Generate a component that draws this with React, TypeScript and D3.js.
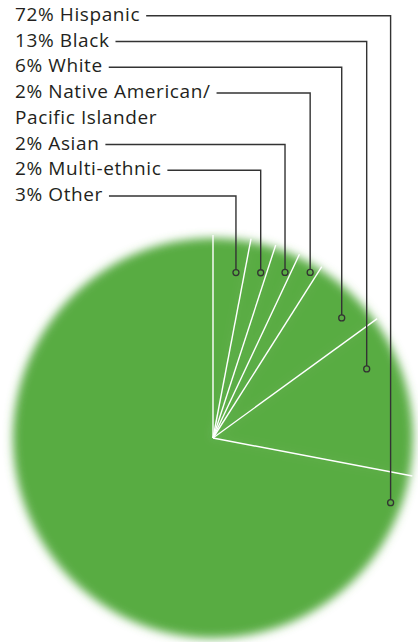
import { useEffect, useRef } from 'react'
import * as d3 from 'd3'

const W = 418
const H = 642

// pie order, clockwise from 12 o'clock
const categories = ['Other', 'Multi-ethnic', 'Asian', 'Native American/Pacific Islander', 'White', 'Black', 'Hispanic']
const values = [3, 2, 2, 2, 6, 13, 72]

// leader anchor inside the pie: angle (deg from top) and distance from centre
const anchorAngle = [7.9, 16.1, 23.5, 30.4, 47, 65.8, 110]
const anchorRadius = [167, 172, 180.6, 192, 176, 168.5, 189]

const GREEN = '#58ac42'
const INK = '#231f20'

export default function App() {
  const svgRef = useRef<SVGSVGElement>(null)

  useEffect(() => {
    document.body.style.margin = '0'
    const svg = d3.select(svgRef.current)
    svg.selectAll('*').remove()

    const cx = 213
    const cy = 438
    const r = 200

    const defs = svg.append('defs')
    defs.append('filter').attr('id', 'feather')
      .attr('x', '-10%').attr('y', '-10%').attr('width', '120%').attr('height', '120%')
      .append('feGaussianBlur').attr('stdDeviation', 4.8)

    const pie = d3.pie<number>().sort(null).value((d) => d)
    const arcs = pie(values)
    const arc = d3.arc<d3.PieArcDatum<number>>().innerRadius(0).outerRadius(r)

    const g = svg.append('g').attr('transform', `translate(${cx},${cy})`)
    g.append('g').attr('filter', 'url(#feather)')
      .selectAll('path').data(arcs).join('path')
      .attr('d', arc).attr('fill', GREEN)

    // white dividers
    g.selectAll('line.div').data(arcs).join('line')
      .attr('class', 'div')
      .attr('x1', 0).attr('y1', 0)
      .attr('x2', (d) => d3.pointRadial(d.startAngle, r + 3)[0])
      .attr('y2', (d) => d3.pointRadial(d.startAngle, r + 3)[1])
      .attr('stroke', '#fff').attr('stroke-width', 1.4)

    // labels, top to bottom: reverse of pie order
    const baseY = 20.8
    const lineH = 25.75
    const fontSize = 19
    let row = 0
    const order = d3.range(categories.length).reverse()
    order.forEach((i) => {
      const name = categories[i]
      const parts = name.includes('/') ? [name.slice(0, name.indexOf('/') + 1), name.slice(name.indexOf('/') + 1)] : [name]
      const lines = parts.map((p, k) => (k === 0 ? `${values[i]}% ${p}` : p))
      const text = svg.append('text')
        .attr('font-family', '"Open Sans", sans-serif')
        .attr('font-size', fontSize)
        .attr('letter-spacing', 0.6)
        .attr('fill', INK)
      lines.forEach((l, k) => {
        text.append('tspan').attr('x', 15).attr('y', baseY + (row + k) * lineH).text(l)
      })
      const first = text.select('tspan').node() as SVGTSpanElement
      const tw = first.getComputedTextLength()
      const ly = baseY + row * lineH - 5
      const [ax, ay] = d3.pointRadial((anchorAngle[i] * Math.PI) / 180, anchorRadius[i])
      const px = cx + ax
      const py = cy + ay
      svg.append('path')
        .attr('d', `M${15 + tw + 6},${ly}H${px}V${py - 3}`)
        .attr('fill', 'none').attr('stroke', '#333').attr('stroke-width', 1.4)
      svg.append('circle')
        .attr('cx', px).attr('cy', py).attr('r', 3)
        .attr('fill', 'none').attr('stroke', '#333').attr('stroke-width', 1.3)
      row += lines.length
    })
  }, [])

  return <svg ref={svgRef} width={W} height={H} style={{ display: 'block' }} />
}
